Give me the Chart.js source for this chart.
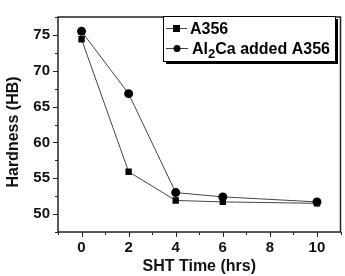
<!DOCTYPE html>
<html>
<head>
<meta charset="utf-8">
<script src="https://cdn.jsdelivr.net/npm/chart.js@4/dist/chart.umd.min.js"></script>
<style>
  html, body { margin: 0; padding: 0; background: #fff; }
  #wrap { width: 345px; height: 276px; }
</style>
</head>
<body>
<div id="wrap"><canvas id="chart"></canvas></div>
<script>
// values
var times = [0, 2, 4, 6, 10];
var a356 = [74.4, 55.9, 51.9, 51.7, 51.5];
var al2ca = [75.5, 66.8, 53.0, 52.4, 51.7];
var xTickLabels = [0, 2, 4, 6, 8, 10];
var yTickLabels = [50, 55, 60, 65, 70, 75];
var xTitle = 'SHT Time (hrs)';
var yTitle = 'Hardness (HB)';

var font = 'Liberation Sans, Arial, sans-serif';

function pts(ys) {
  return times.map(function (t, i) { return { x: t, y: ys[i] }; });
}

// frame, custom ticks, axis titles and legend box
var decor = {
  id: 'decor',
  afterDraw: function (chart) {
    var c = chart.ctx, a = chart.chartArea;
    var xs = chart.scales.x, ys = chart.scales.y;
    c.save();
    c.strokeStyle = '#222';
    c.lineWidth = 1.5;
    c.strokeRect(a.left, a.top, a.right - a.left, a.bottom - a.top);
    c.lineWidth = 1;
    for (var v = -1; v <= 11; v++) {
      var px = Math.round(xs.getPixelForValue(v)) + 0.5;
      var len = (v % 2 === 0) ? 5 : 3;
      c.beginPath(); c.moveTo(px, a.bottom); c.lineTo(px, a.bottom + len); c.stroke();
    }
    for (var w = 47.5; w <= 77.5; w += 2.5) {
      var py = Math.round(ys.getPixelForValue(w)) + 0.5;
      var l2 = (w % 5 === 0) ? 5 : 3;
      c.beginPath(); c.moveTo(a.left, py); c.lineTo(a.left - l2, py); c.stroke();
    }

    // axis titles
    c.fillStyle = '#111';
    c.font = 'bold 16px ' + font;
    c.textAlign = 'center';
    c.textBaseline = 'middle';
    c.fillText(xTitle, (a.left + a.right) / 2, 267);
    c.save();
    c.translate(14, 132);
    c.rotate(-Math.PI / 2);
    c.fillText(yTitle, 0, 0);
    c.restore();

    // legend
    var bx = 163, by = 16, bw = 172, bh = 45;
    c.fillStyle = '#000';
    c.fillRect(bx + 3, by + 3, bw, bh);
    c.fillStyle = '#fff';
    c.fillRect(bx, by, bw, bh);
    c.strokeStyle = '#000';
    c.lineWidth = 1;
    c.strokeRect(bx + 0.5, by + 0.5, bw, bh);

    c.strokeStyle = '#444';
    c.beginPath(); c.moveTo(166, 28.5); c.lineTo(187, 28.5); c.stroke();
    c.beginPath(); c.moveTo(166, 48.5); c.lineTo(188, 48.5); c.stroke();
    c.fillStyle = '#000';
    c.fillRect(173, 25, 7, 7);
    c.beginPath(); c.arc(177, 48.5, 3.5, 0, Math.PI * 2); c.fill();

    c.font = 'bold 16px ' + font;
    c.textBaseline = 'alphabetic';
    c.textAlign = 'left';
    c.fillText('A356', 190, 34);
    var x0 = 192;
    c.fillText('Al', x0, 54);
    x0 += c.measureText('Al').width;
    c.font = 'bold 13px ' + font;
    c.fillText('2', x0, 58);
    x0 += c.measureText('2').width;
    c.font = 'bold 16px ' + font;
    c.fillText('Ca added A356', x0, 54);
    c.restore();
  }
};

new Chart(document.getElementById('chart'), {
  type: 'scatter',
  data: {
    datasets: [
      {
        label: 'A356',
        data: pts(a356),
        showLine: true,
        borderColor: '#444',
        borderWidth: 1,
        backgroundColor: '#000',
        pointStyle: 'rect',
        pointRadius: 4.5,
        pointBorderWidth: 0
      },
      {
        label: 'Al2Ca added A356',
        data: pts(al2ca),
        showLine: true,
        borderColor: '#444',
        borderWidth: 1,
        backgroundColor: '#000',
        pointStyle: 'circle',
        pointRadius: 4.5,
        pointBorderWidth: 0
      }
    ]
  },
  options: {
    responsive: true,
    maintainAspectRatio: false,
    animation: false,
    layout: { padding: { top: 15, right: 2, left: 0, bottom: 0 } },
    plugins: { legend: { display: false }, tooltip: { enabled: false } },
    scales: {
      x: {
        type: 'linear',
        min: -1, max: 11,
        grid: { display: false, drawTicks: false },
        border: { display: false },
        afterBuildTicks: function (s) {
          s.ticks = xTickLabels.map(function (v) { return { value: v }; });
        },
        afterFit: function (s) { s.height = 44; },
        ticks: {
          color: '#111',
          font: { family: font, size: 15, weight: 'bold' },
          padding: 7,
          maxRotation: 0,
          autoSkip: false
        }
      },
      y: {
        min: 47.5, max: 77.5,
        grid: { display: false, drawTicks: false },
        border: { display: false },
        afterBuildTicks: function (s) {
          s.ticks = yTickLabels.map(function (v) { return { value: v }; });
        },
        afterFit: function (s) { s.width = 58; },
        ticks: {
          color: '#111',
          font: { family: font, size: 15, weight: 'bold' },
          padding: 8,
          autoSkip: false
        }
      }
    }
  },
  plugins: [decor]
});
</script>
</body>
</html>
